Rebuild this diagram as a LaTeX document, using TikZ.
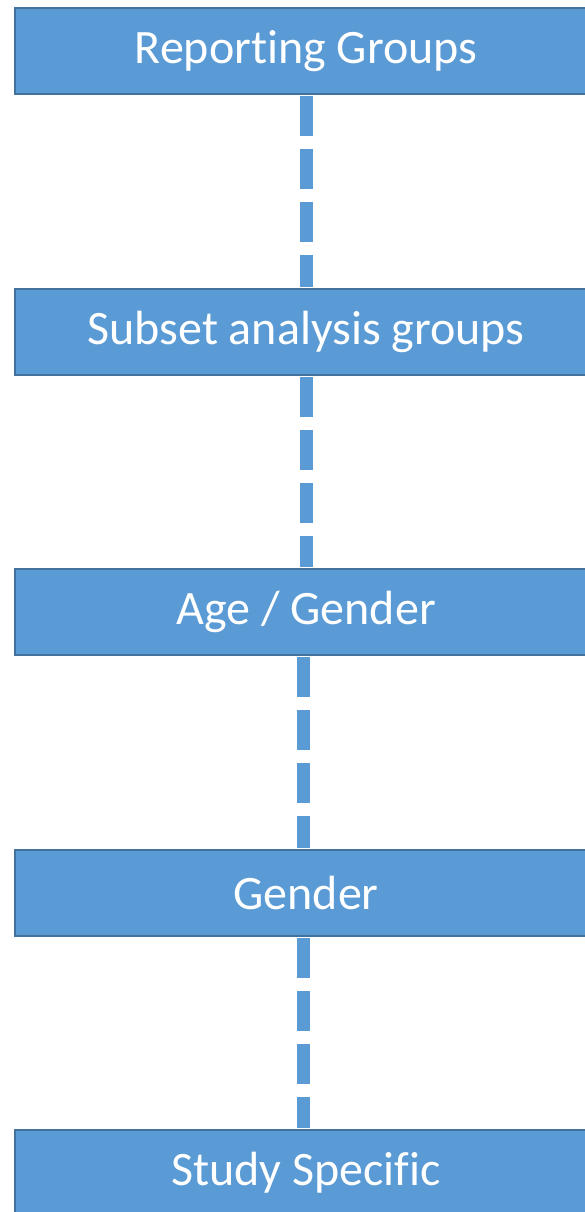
\documentclass[tikz,border=0pt]{standalone}
\usepackage{fontspec}
\setmainfont{Carlito}[Ligatures={NoCommon}]
\definecolor{boxfill}{HTML}{5B9BD5}
\definecolor{boxline}{HTML}{41719C}
\begin{document}
\begin{tikzpicture}[x=1pt,y=-1pt,
  levelbox/.style={draw=boxline,fill=boxfill,line width=2.2pt,minimum width=582pt,minimum height=86pt,
    inner sep=0pt,text=white,font=\fontsize{48}{58}\selectfont,anchor=north west},
  dashlink/.style={draw=boxfill,line width=13pt,dash pattern=on 39.5pt off 13.5pt}]
\useasboundingbox (0,0) rectangle (585,1212);
\clip (0,0) rectangle (585,1212);
\node[levelbox] (b1) at (14,7) {Reporting Groups};
\node[levelbox] (b2) at (14,288) {Subset analysis groups};
\node[levelbox] (b3) at (14,568) {Age / Gender};
\node[levelbox] (b4) at (14,849) {Gender};
\node[levelbox] (b5) at (14,1129) {Study Specific};
\draw[dashlink] ([yshift=-1pt]b1.south) -- ([yshift=1pt]b2.north);
\draw[dashlink] ([yshift=-1pt]b2.south) -- ([yshift=1pt]b3.north);
\draw[dashlink] ([xshift=-2.6pt,yshift=-1pt]b3.south) -- ([xshift=-2.6pt,yshift=1pt]b4.north);
\draw[dashlink] ([xshift=-2.6pt,yshift=-1pt]b4.south) -- ([xshift=-2.6pt,yshift=1pt]b5.north);
\end{tikzpicture}
\end{document}
